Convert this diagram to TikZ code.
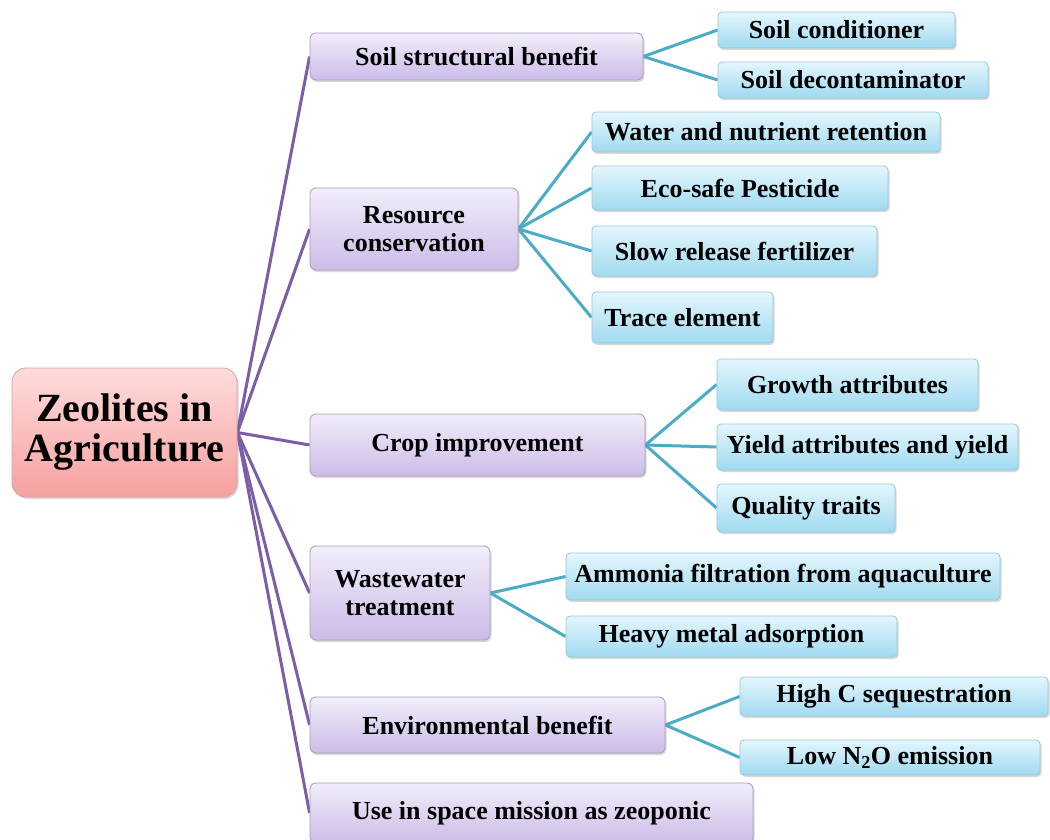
\documentclass[tikz,border=0pt]{standalone}
\usepackage{fontspec}
\setmainfont{Liberation Serif}
\usepackage{tikz}
\usetikzlibrary{shadows}
\usetikzlibrary{backgrounds}
\definecolor{rootTop}{RGB}{255,220,220}
\definecolor{rootBot}{RGB}{245,160,160}
\definecolor{rootLine}{RGB}{226,160,160}
\definecolor{topicTop}{RGB}{242,237,250}
\definecolor{topicBot}{RGB}{204,188,232}
\definecolor{topicLine}{RGB}{168,156,186}
\definecolor{leafTop}{RGB}{228,246,253}
\definecolor{leafBot}{RGB}{160,218,240}
\definecolor{leafLine}{RGB}{150,200,218}
\definecolor{trunkColor}{RGB}{123,94,167}
\definecolor{twigColor}{RGB}{75,172,198}
\tikzset{
  rootbox/.style = {draw=rootLine, line width=0.8pt, top color=rootTop, bottom color=rootBot,
    rounded corners=14pt, align=center, inner sep=0pt,
    font=\fontsize{40}{40}\selectfont\bfseries,
    drop shadow={opacity=0.3, shadow xshift=1.5pt, shadow yshift=-2pt}},
  topicbox/.style = {draw=topicLine, line width=0.8pt, top color=topicTop, bottom color=topicBot,
    rounded corners=6pt, align=center, inner sep=0pt,
    font=\fontsize{26}{28}\selectfont\bfseries,
    drop shadow={opacity=0.3, shadow xshift=1.5pt, shadow yshift=-2pt}},
  leafbox/.style = {draw=leafLine, line width=0.8pt, top color=leafTop, bottom color=leafBot,
    rounded corners=4pt, align=center, inner sep=0pt,
    font=\fontsize{26}{28}\selectfont\bfseries,
    drop shadow={opacity=0.3, shadow xshift=1.5pt, shadow yshift=-2pt}},
  trunk/.style = {draw=trunkColor, line width=3pt},
  twig/.style = {draw=twigColor, line width=3pt}
}

\begin{document}
\begin{tikzpicture}[x=1pt,y=-1pt]
\path[use as bounding box] (0,0) rectangle (1050,840);
\clip (0,0) rectangle (1050,840);

% root
\node[rootbox, minimum width=225pt, minimum height=129pt] (zeo) at (124.5,432.5) {Zeolites in\\Agriculture};

% topics
\node[topicbox, minimum width=333pt, minimum height=47pt] (soil) at (476.5,56.5) {Soil structural benefit};
\node[topicbox, minimum width=208pt, minimum height=82pt] (resource) at (414,229) {Resource\\conservation};
\node[topicbox, minimum width=335pt, minimum height=62pt] (crop) at (477.5,445) {Crop improvement};
\node[topicbox, minimum width=180pt, minimum height=94pt] (waste) at (400,593) {Wastewater\\treatment};
\node[topicbox, minimum width=355pt, minimum height=56pt] (env) at (487.5,725) {Environmental benefit};
\node[topicbox, minimum width=443pt, minimum height=60pt] (space) at (531.5,813) {Use in space mission as zeoponic};

% leaves
\node[leafbox, minimum width=237pt, minimum height=36pt] (condit) at (836.5,30) {Soil conditioner};
\node[leafbox, minimum width=270pt, minimum height=36pt] (decont) at (853,80) {Soil decontaminator};
\node[leafbox, minimum width=348pt, minimum height=40pt] (water) at (766,132) {Water and nutrient retention};
\node[leafbox, minimum width=296pt, minimum height=44pt] (pest) at (740,188) {Eco-safe Pesticide};
\node[leafbox, minimum width=285pt, minimum height=50pt] (fert) at (734.5,251) {Slow release fertilizer};
\node[leafbox, minimum width=181pt, minimum height=51pt] (trace) at (682.5,317.5) {Trace element};
\node[leafbox, minimum width=261pt, minimum height=51pt] (growth) at (847.5,384.5) {Growth attributes};
\node[leafbox, minimum width=301pt, minimum height=46pt] (yield) at (867.5,447) {Yield attributes and yield};
\node[leafbox, minimum width=178pt, minimum height=48pt] (quality) at (806,508) {Quality traits};
\node[leafbox, minimum width=434pt, minimum height=47pt] (ammonia) at (783,576.5) {Ammonia filtration from aquaculture};
\node[leafbox, minimum width=331pt, minimum height=41pt] (heavy) at (731.5,636.5) {Heavy metal adsorption};
\node[leafbox, minimum width=308pt, minimum height=39pt] (carbon) at (894,696.5) {High C sequestration};
\node[leafbox, minimum width=300pt, minimum height=35pt] (nitro) at (890,757.5) {Low N\textsubscript{2}O emission};

% connectors
\begin{scope}[on background layer]
\path[fill=white] (0,0) rectangle (1050,840);
\path[trunk] (zeo.east) -- (soil.west);
\path[trunk] (zeo.east) -- (resource.west);
\path[trunk] (zeo.east) -- (crop.west);
\path[trunk] (zeo.east) -- (waste.west);
\path[trunk] (zeo.east) -- (env.west);
\path[trunk] (zeo.east) -- (space.west);

\path[twig] (soil.east) -- (condit.west);
\path[twig] (soil.east) -- (decont.west);
\path[twig] (resource.east) -- (water.west);
\path[twig] (resource.east) -- (pest.west);
\path[twig] (resource.east) -- (fert.west);
\path[twig] (resource.east) -- (trace.west);
\path[twig] (crop.east) -- (growth.west);
\path[twig] (crop.east) -- (yield.west);
\path[twig] (crop.east) -- (quality.west);
\path[twig] (waste.east) -- (ammonia.west);
\path[twig] (waste.east) -- (heavy.west);
\path[twig] (env.east) -- (carbon.west);
\path[twig] (env.east) -- (nitro.west);
\end{scope}
\end{tikzpicture}
\end{document}
